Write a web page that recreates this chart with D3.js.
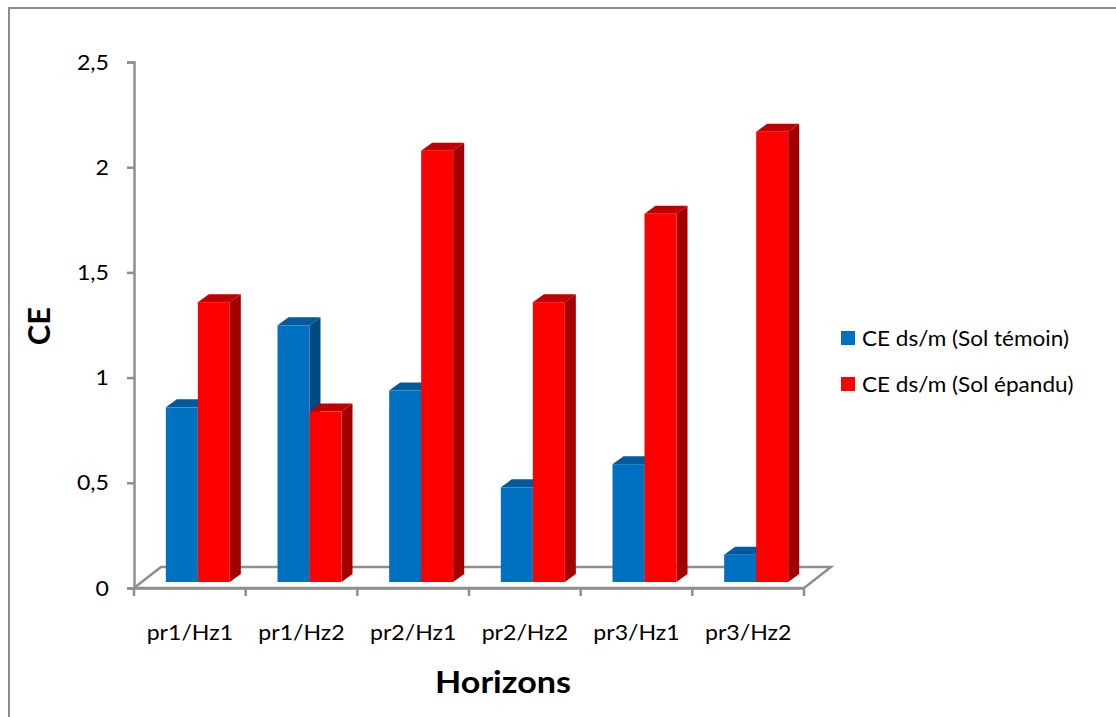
<!DOCTYPE html>
<html>
<head>
<meta charset="utf-8">
<script src="https://cdn.jsdelivr.net/npm/d3@7"></script>
<style>
  body { margin: 0; background: #fff; }
  svg { display: block; font-family: Lato, "Open Sans", sans-serif; }
</style>
</head>
<body>
<div id="chart"></div>
<script>
var width = 1116;
var height = 717;

// data
var categories = ["pr1/Hz1", "pr1/Hz2", "pr2/Hz1", "pr2/Hz2", "pr3/Hz1", "pr3/Hz2"];
var seriesNames = ["CE ds/m (Sol témoin)", "CE ds/m (Sol épandu)"];
var temoin = [0.83, 1.22, 0.91, 0.45, 0.56, 0.13];
var epandu = [1.33, 0.81, 2.05, 1.33, 1.75, 2.14];
var yTicks = [0, 0.5, 1, 1.5, 2, 2.5];

var front = ["#0070c0", "#ff0000"];
var topCol = ["#005a9c", "#c00000"];
var sideCol = ["#004a80", "#a00000"];

var svg = d3.select("#chart").append("svg")
    .attr("width", width)
    .attr("height", height);

// outer frame (runs past the right/bottom edge)
svg.append("rect")
    .attr("x", 9).attr("y", 8)
    .attr("width", 1200).attr("height", 800)
    .attr("fill", "none")
    .attr("stroke", "#8c8c8c")
    .attr("stroke-width", 2);

var x0 = d3.scaleBand().domain(categories).range([134, 804]);
var x1 = d3.scaleBand().domain([0, 1]).range([0, x0.bandwidth()])
    .paddingInner(0).paddingOuter(0.745);
var y = d3.scaleLinear().domain([0, 2.5]).range([588, 62]);

var depth = {dx: 27, dy: -21};   // floor depth
var shift = {dx: 8, dy: -6};     // bars sit in the middle of the depth
var bar = {dx: 11, dy: -8};      // bar depth

// floor
var fl = svg.append("g").attr("stroke", "#8e8e8e").attr("stroke-width", 2.5).attr("fill", "none");
fl.append("path").attr("d",
    "M" + x0.range()[0] + "," + y(0) +
    "L" + (x0.range()[0] + depth.dx) + "," + (y(0) + depth.dy) +
    "L" + (x0.range()[1] + depth.dx) + "," + (y(0) + depth.dy) +
    "L" + x0.range()[1] + "," + y(0) + "Z");

// y axis
var fmt = function(d){ return String(d).replace(".", ","); };
var yAxis = svg.append("g")
    .attr("transform", "translate(134,0)")
    .call(d3.axisLeft(y).tickValues(yTicks).tickSize(7).tickPadding(0).tickFormat(fmt));
yAxis.select(".domain").attr("stroke", "#8e8e8e").attr("stroke-width", 2.5);
yAxis.selectAll(".tick line").attr("stroke", "#8e8e8e").attr("stroke-width", 2.5);
yAxis.selectAll(".tick text").remove();
svg.selectAll(".ylab")
    .data(yTicks)
    .enter().append("text")
    .attr("class", "ylab")
    .attr("transform", function(d){ return "translate(109," + (y(d) + 7.5) + ") scale(1.1,1)"; })
    .attr("text-anchor", "end")
    .attr("font-size", 21)
    .attr("fill", "#000")
    .text(fmt);

// x axis front line and ticks
var xAxis = svg.append("g")
    .attr("transform", "translate(0," + y(0) + ")")
    .call(d3.axisBottom(x0).tickSize(0).tickFormat(""));
xAxis.select(".domain").attr("stroke", "#8e8e8e").attr("stroke-width", 2.5);
xAxis.selectAll(".tick").remove();
svg.selectAll(".xtick")
    .data(d3.range(categories.length + 1))
    .enter().append("line")
    .attr("x1", function(i){ return x0.range()[0] + i * x0.step(); })
    .attr("x2", function(i){ return x0.range()[0] + i * x0.step(); })
    .attr("y1", y(0)).attr("y2", y(0) + 8)
    .attr("stroke", "#8e8e8e").attr("stroke-width", 2.5);

svg.selectAll(".xlab")
    .data(categories)
    .enter().append("text")
    .attr("class", "xlab")
    .attr("transform", function(d){ return "translate(" + (x0(d) + x0.bandwidth() / 2) + ",640) scale(1.1,1)"; })
    .attr("text-anchor", "middle")
    .attr("font-size", 21)
    .text(function(d){ return d; });

// bars
var rows = [];
categories.forEach(function(c, i){
    rows.push({cat: c, s: 0, v: temoin[i]});
    rows.push({cat: c, s: 1, v: epandu[i]});
});

var bars = svg.selectAll(".bar")
    .data(rows)
    .enter().append("g")
    .attr("class", "bar");

function geo(d){
    var xl = x0(d.cat) + x1(d.s) + shift.dx;
    var w = x1.bandwidth();
    var yb = y(0) + shift.dy;
    var yt = y(d.v) + shift.dy;
    return {xl: xl, xr: xl + w, yb: yb, yt: yt};
}

bars.append("path")
    .attr("fill", function(d){ return sideCol[d.s]; })
    .attr("d", function(d){
        var g = geo(d);
        return "M" + g.xr + "," + g.yt + "L" + (g.xr + bar.dx) + "," + (g.yt + bar.dy) +
            "L" + (g.xr + bar.dx) + "," + (g.yb + bar.dy) + "L" + g.xr + "," + g.yb + "Z";
    });
bars.append("path")
    .attr("fill", function(d){ return topCol[d.s]; })
    .attr("d", function(d){
        var g = geo(d);
        return "M" + g.xl + "," + g.yt + "L" + (g.xl + bar.dx) + "," + (g.yt + bar.dy) +
            "L" + (g.xr + bar.dx) + "," + (g.yt + bar.dy) + "L" + g.xr + "," + g.yt + "Z";
    });
bars.append("rect")
    .attr("fill", function(d){ return front[d.s]; })
    .attr("x", function(d){ return geo(d).xl; })
    .attr("y", function(d){ return geo(d).yt; })
    .attr("width", x1.bandwidth())
    .attr("height", function(d){ var g = geo(d); return g.yb - g.yt; });

// axis titles
svg.append("text")
    .attr("transform", "translate(503,693) scale(1.1,1)")
    .attr("text-anchor", "middle")
    .attr("font-size", 31)
    .attr("font-weight", "bold")
    .text("Horizons");

svg.append("text")
    .attr("transform", "translate(50,326) rotate(-90)")
    .attr("text-anchor", "middle")
    .attr("font-size", 31)
    .attr("font-weight", "bold")
    .text("CE");

// legend
var legend = svg.selectAll(".legend")
    .data(seriesNames)
    .enter().append("g")
    .attr("class", "legend")
    .attr("transform", function(d, i){ return "translate(841," + (331 + i * 46) + ")"; });
legend.append("rect")
    .attr("width", 14).attr("height", 14)
    .attr("fill", function(d, i){ return front[i]; });
legend.append("text")
    .attr("transform", "translate(21,14.5) scale(1.1,1)")
    .attr("font-size", 20.5)
    .text(function(d){ return d; });
</script>
</body>
</html>
